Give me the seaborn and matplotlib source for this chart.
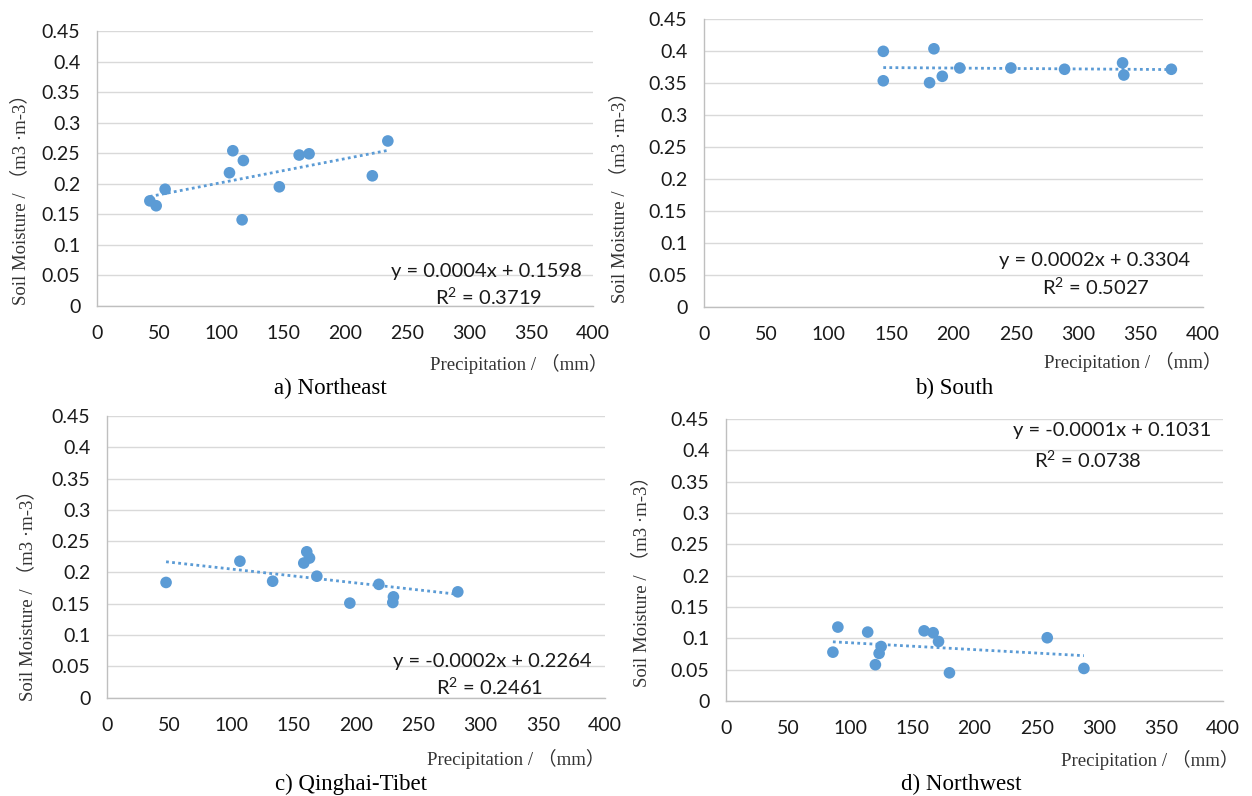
import numpy as np
import pandas as pd
import matplotlib
matplotlib.use('Agg')
import matplotlib.pyplot as plt
import seaborn as sns

# values (precipitation mm, soil moisture m3/m3)
ne_precip = [42.6, 47.7, 54.9, 106.8, 109.5, 117.0, 118.0, 147.0, 163.0, 171.0, 222.0, 234.5]
ne_soil = [0.172, 0.164, 0.191, 0.218, 0.254, 0.141, 0.238, 0.195, 0.247, 0.249, 0.213, 0.270]

s_precip = [143.7, 143.7, 180.8, 184.3, 191.0, 205.0, 246.0, 289.0, 335.5, 336.5, 374.6]
s_soil = [0.399, 0.353, 0.350, 0.403, 0.360, 0.373, 0.373, 0.371, 0.381, 0.362, 0.371]

qt_precip = [47.4, 106.7, 133.0, 158.0, 160.4, 162.6, 168.5, 195.0, 218.3, 229.5, 230.0, 281.7]
qt_soil = [0.184, 0.218, 0.186, 0.215, 0.233, 0.223, 0.194, 0.151, 0.181, 0.152, 0.161, 0.169]

nw_precip = [86.0, 90.0, 114.0, 120.2, 123.2, 124.8, 159.4, 166.7, 171.0, 179.8, 258.5, 288.0]
nw_soil = [0.078, 0.118, 0.110, 0.058, 0.076, 0.087, 0.112, 0.109, 0.095, 0.045, 0.101, 0.052]

captions = ['a) Northeast', 'b) South', 'c) Qinghai-Tibet', 'd) Northwest']
equations = ['y = 0.0004x + 0.1598', 'y = 0.0002x + 0.3304',
             'y = -0.0002x + 0.2264', 'y = -0.0001x + 0.1031']
r_squared = ['0.3719', '0.5027', '0.2461', '0.0738']

sns.set_style('white')
plt.rcParams['font.family'] = ['Lato', 'DejaVu Sans']
plt.rcParams['mathtext.fontset'] = 'custom'
plt.rcParams['mathtext.rm'] = 'Lato'
serif = ['Liberation Serif', 'Noto Sans CJK SC']
blue = '#5b9bd5'

fig = plt.figure(figsize=(12.52, 7.96), dpi=100)

# axes rectangles (fig fraction)
rects = [
    [0.0775, 0.6156, 0.3962, 0.3455],
    [0.5623, 0.6147, 0.3986, 0.3618],
    [0.0855, 0.1236, 0.3978, 0.3538],
    [0.5799, 0.1193, 0.3970, 0.3543],
]
data = [(ne_precip, ne_soil), (s_precip, s_soil), (qt_precip, qt_soil), (nw_precip, nw_soil)]
# equation positions (axes fraction): eq centre, r2 centre
eq_pos = [((0.785, 0.127), (0.79, 0.033)),
          ((0.783, 0.159), (0.786, 0.068)),
          ((0.773, 0.13), (0.769, 0.038)),
          ((0.776, 0.961), (0.728, 0.855))]
ylab_pos = [(0.016, 0.755), (0.495, 0.757), (0.022, 0.258), (0.512, 0.275)]
xlab_pos = [(0.414, 0.543), (0.905, 0.545), (0.412, 0.047), (0.918, 0.045)]
cap_pos = [(0.264, 0.512), (0.762, 0.512), (0.28, 0.015), (0.768, 0.015)]

for i, (r, (px, sm)) in enumerate(zip(rects, data)):
    ax = fig.add_axes(r)
    df = pd.DataFrame({'precip': px, 'soil': sm})
    sns.regplot(data=df, x='precip', y='soil', ax=ax, scatter=False, ci=None,
                color=blue, line_kws=dict(ls=(0, (1, 1.2)), lw=2))
    sns.scatterplot(data=df, x='precip', y='soil', ax=ax, color=blue, s=70,
                    edgecolor='none', zorder=3)
    ax.set_xlim(0, 400)
    ax.set_ylim(0, 0.45)
    ax.set_xticks(np.arange(0, 401, 50))
    ax.set_yticks(np.arange(0, 0.451, 0.05))
    ax.set_yticklabels(['0', '0.05', '0.1', '0.15', '0.2', '0.25', '0.3', '0.35', '0.4', '0.45'])
    ax.tick_params(axis='x', labelsize=14, pad=14, length=0, colors='#1a1a1a')
    ax.tick_params(axis='y', labelsize=14, pad=12, length=0, colors='#1a1a1a')
    ax.grid(axis='y', color='#d9d9d9', lw=1)
    ax.set_axisbelow(True)
    for side in ['top', 'right']:
        ax.spines[side].set_visible(False)
    for side in ['left', 'bottom']:
        ax.spines[side].set_color('#bfbfbf')
        ax.spines[side].set_linewidth(1)
    ax.set_xlabel('')
    ax.set_ylabel('')
    (ex, ey), (rx, ry) = eq_pos[i]
    ax.text(ex, ey, equations[i], transform=ax.transAxes, fontsize=14.5,
            ha='center', va='center', color='#1a1a1a')
    ax.text(rx, ry, 'R$^2$ = ' + r_squared[i], transform=ax.transAxes, fontsize=14.5,
            ha='center', va='center', color='#1a1a1a')

    fig.text(*ylab_pos[i], 'Soil Moisture / （m3 ·m-3）', rotation=90, ha='center',
             va='center', fontsize=13.5, family=serif, color='#333333')
    fig.text(*xlab_pos[i], 'Precipitation / （mm）', ha='center', va='center',
             fontsize=13.5, family=serif, color='#333333')
    fig.text(*cap_pos[i], captions[i], ha='center', va='center', fontsize=16.5,
             family=serif, color='black')

fig.savefig('out.png', dpi=100)
